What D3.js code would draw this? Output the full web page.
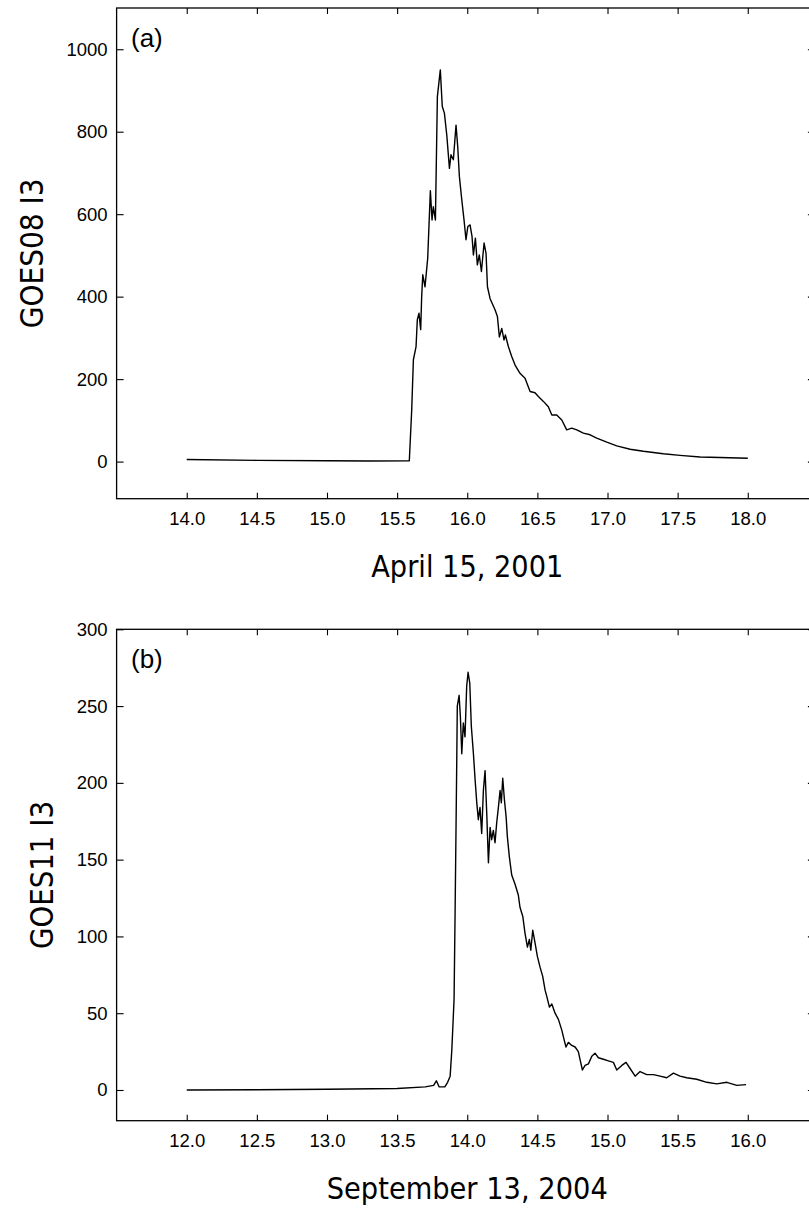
<!DOCTYPE html>
<html>
<head>
<meta charset="utf-8">
<script src="https://cdn.jsdelivr.net/npm/d3@7"></script>
<style>
  body { margin: 0; background: #fff; }
  svg { display: block; }
  .tick text { font-family: "Liberation Sans", Arial, sans-serif; font-size: 18.5px; fill: #000; }
  .tick line { stroke: #000; stroke-width: 1.1; }
  .title { font-family: "DejaVu Sans", Tahoma, sans-serif; fill: #000; }
  .panelTag { font-family: "Liberation Sans", Arial, sans-serif; font-size: 26px; fill: #000; }
</style>
</head>
<body>
<div id="chart"></div>
<script>
// ---- data ----
const topX = [14.0, 14.5, 15.0, 15.3, 15.587, 15.604, 15.616, 15.635, 15.644, 15.656, 15.668, 15.675, 15.683, 15.699, 15.718,
  15.737, 15.749, 15.758, 15.773, 15.787, 15.808, 15.822, 15.837, 15.854, 15.873, 15.884, 15.901, 15.920, 15.932, 15.944,
  15.961, 15.977, 15.991, 16.004, 16.020, 16.034, 16.044, 16.058, 16.072, 16.086, 16.101, 16.120, 16.134, 16.144, 16.163,
  16.198, 16.215, 16.229, 16.246, 16.262, 16.272, 16.293, 16.317, 16.341, 16.376, 16.412, 16.448, 16.483, 16.507, 16.543,
  16.578, 16.603, 16.638, 16.674, 16.709, 16.745, 16.781, 16.828, 16.876, 16.923, 16.995, 17.066, 17.161, 17.256, 17.398,
  17.517, 17.660, 17.802, 18.0];
const topY = [5, 3, 2, 1.5, 2, 125, 247, 279, 344, 360, 320, 400, 453, 424, 493,
  657, 586, 618, 586, 885, 950, 861, 845, 792, 711, 744, 732, 816, 764, 691,
  635, 586, 538, 570, 574, 546, 501, 542, 477, 501, 461, 530, 505, 424, 395,
  368, 352, 302, 323, 295, 307, 279, 255, 234, 214, 202, 170, 167, 158, 146,
  133, 113, 113, 101, 77, 81, 77, 69, 65, 57, 47, 38, 30, 25, 19,
  15, 11, 10, 8];

const botX = [12.0, 12.5, 13.0, 13.5, 13.7, 13.76, 13.78, 13.8, 13.84, 13.86, 13.878, 13.89, 13.906, 13.913, 13.920,
  13.925, 13.929, 13.942, 13.951, 13.961, 13.972, 13.984, 13.996, 14.006, 14.018, 14.029, 14.044, 14.056, 14.068, 14.079,
  14.091, 14.103, 14.115, 14.127, 14.139, 14.151, 14.163, 14.174, 14.186, 14.198, 14.210, 14.222, 14.234, 14.243, 14.253,
  14.265, 14.277, 14.286, 14.300, 14.317, 14.341, 14.364, 14.376, 14.396, 14.412, 14.429, 14.443, 14.453, 14.467, 14.483,
  14.500, 14.519, 14.538, 14.555, 14.567, 14.586, 14.603, 14.626, 14.650, 14.674, 14.690, 14.704, 14.721, 14.745, 14.769,
  14.792, 14.804, 14.821, 14.840, 14.864, 14.888, 14.911, 14.935, 14.971, 15.006, 15.042, 15.066, 15.102, 15.132, 15.161,
  15.197, 15.232, 15.280, 15.327, 15.375, 15.422, 15.470, 15.517, 15.565, 15.636, 15.708, 15.779, 15.851, 15.922, 15.988];
const botY = [0, 0.2, 0.5, 1, 2, 3, 6, 2, 2, 5, 9, 26, 59, 113, 171,
  213, 250, 257, 243, 219, 239, 230, 263, 272, 265, 237, 219, 202, 187, 176,
  184, 167, 195, 208, 180, 148, 171, 163, 169, 161, 174, 184, 195, 187, 203,
  189, 178, 165, 152, 140, 134, 127, 119, 113, 102, 93, 98, 91, 104, 96,
  87, 80, 74, 65, 61, 54, 56, 50, 46, 39, 33, 28, 31, 29, 28,
  25, 20, 13, 16, 17, 22, 24, 21, 20, 19, 18, 13, 16, 18, 14,
  9, 12, 10, 10, 9, 8, 11, 9, 8, 7, 5, 4, 5, 3, 3.5];

const topXTicks = [14.0, 14.5, 15.0, 15.5, 16.0, 16.5, 17.0, 17.5, 18.0];
const botXTicks = [12.0, 12.5, 13.0, 13.5, 14.0, 14.5, 15.0, 15.5, 16.0];
const topYTicks = [0, 200, 400, 600, 800, 1000];
const botYTicks = [0, 50, 100, 150, 200, 250, 300];

const W = 809, H = 1211;
const svg = d3.select("#chart").append("svg").attr("width", W).attr("height", H);

const panels = [
  { xs: topX, ys: topY, xDom: [13.5, 18.5], yDom: [-90, 1100], top: 8, bottom: 498.7,
    xTicks: topXTicks, yTicks: topYTicks, tag: "(a)", yTitle: "GOES08 I3", xTitle: "April 15, 2001",
    yTitleX: 43, yTitleLen: 150, xTitleW: 192 },
  { xs: botX, ys: botY, xDom: [11.5, 16.5], yDom: [-20, 300], top: 629.3, bottom: 1120.7,
    xTicks: botXTicks, yTicks: botYTicks, tag: "(b)", yTitle: "GOES11 I3", xTitle: "September 13, 2004",
    yTitleX: 53, yTitleLen: 148, xTitleW: 281 }
];

const left = 116.6, right = 817.9;

panels.forEach(p => {
  const x = d3.scaleLinear().domain(p.xDom).range([left, right]);
  const y = d3.scaleLinear().domain(p.yDom).range([p.bottom, p.top]);
  const g = svg.append("g");

  // frame
  g.append("rect")
    .attr("x", left).attr("y", p.top)
    .attr("width", right - left).attr("height", p.bottom - p.top)
    .attr("fill", "none").attr("stroke", "#000").attr("stroke-width", 1.3);

  // axes, ticks pointing inward
  const fmt = d3.format(".1f");
  g.append("g").attr("transform", `translate(0,${p.bottom})`)
    .call(d3.axisBottom(x).tickValues(p.xTicks).tickFormat(fmt).tickSize(-6).tickPadding(13))
    .call(a => a.select(".domain").remove());
  g.append("g").attr("transform", `translate(0,${p.top})`)
    .call(d3.axisTop(x).tickValues(p.xTicks).tickFormat("").tickSize(-6))
    .call(a => a.select(".domain").remove());
  g.append("g").attr("transform", `translate(${left},0)`)
    .call(d3.axisLeft(y).tickValues(p.yTicks).tickFormat(d3.format("d")).tickSize(-7).tickPadding(9))
    .call(a => a.select(".domain").remove());
  g.append("g").attr("transform", `translate(${right},0)`)
    .call(d3.axisRight(y).tickValues(p.yTicks).tickFormat("").tickSize(-10))
    .call(a => a.select(".domain").remove());

  // the series
  const pts = p.xs.map((v, i) => [v, p.ys[i]]);
  g.append("path")
    .datum(pts)
    .attr("fill", "none")
    .attr("stroke", "#000")
    .attr("stroke-width", 1.4)
    .attr("stroke-linejoin", "round")
    .attr("d", d3.line().x(d => x(d[0])).y(d => y(d[1])));

  // panel tag
  g.append("text").attr("class", "panelTag")
    .attr("x", 131).attr("y", p.top + 39)
    .text(p.tag);

  // y title
  const yMid = (p.top + p.bottom) / 2;
  g.append("text").attr("class", "title")
    .attr("transform", `translate(${p.yTitleX},${yMid}) rotate(-90)`)
    .attr("text-anchor", "middle")
    .style("font-size", "32px")
    .attr("textLength", p.yTitleLen).attr("lengthAdjust", "spacingAndGlyphs")
    .text(p.yTitle);

  // x title
  g.append("text").attr("class", "title")
    .attr("x", (left + right) / 2).attr("y", p.bottom + 78.5)
    .attr("text-anchor", "middle")
    .style("font-size", "30px")
    .attr("textLength", p.xTitleW).attr("lengthAdjust", "spacingAndGlyphs")
    .text(p.xTitle);
});
</script>
</body>
</html>
